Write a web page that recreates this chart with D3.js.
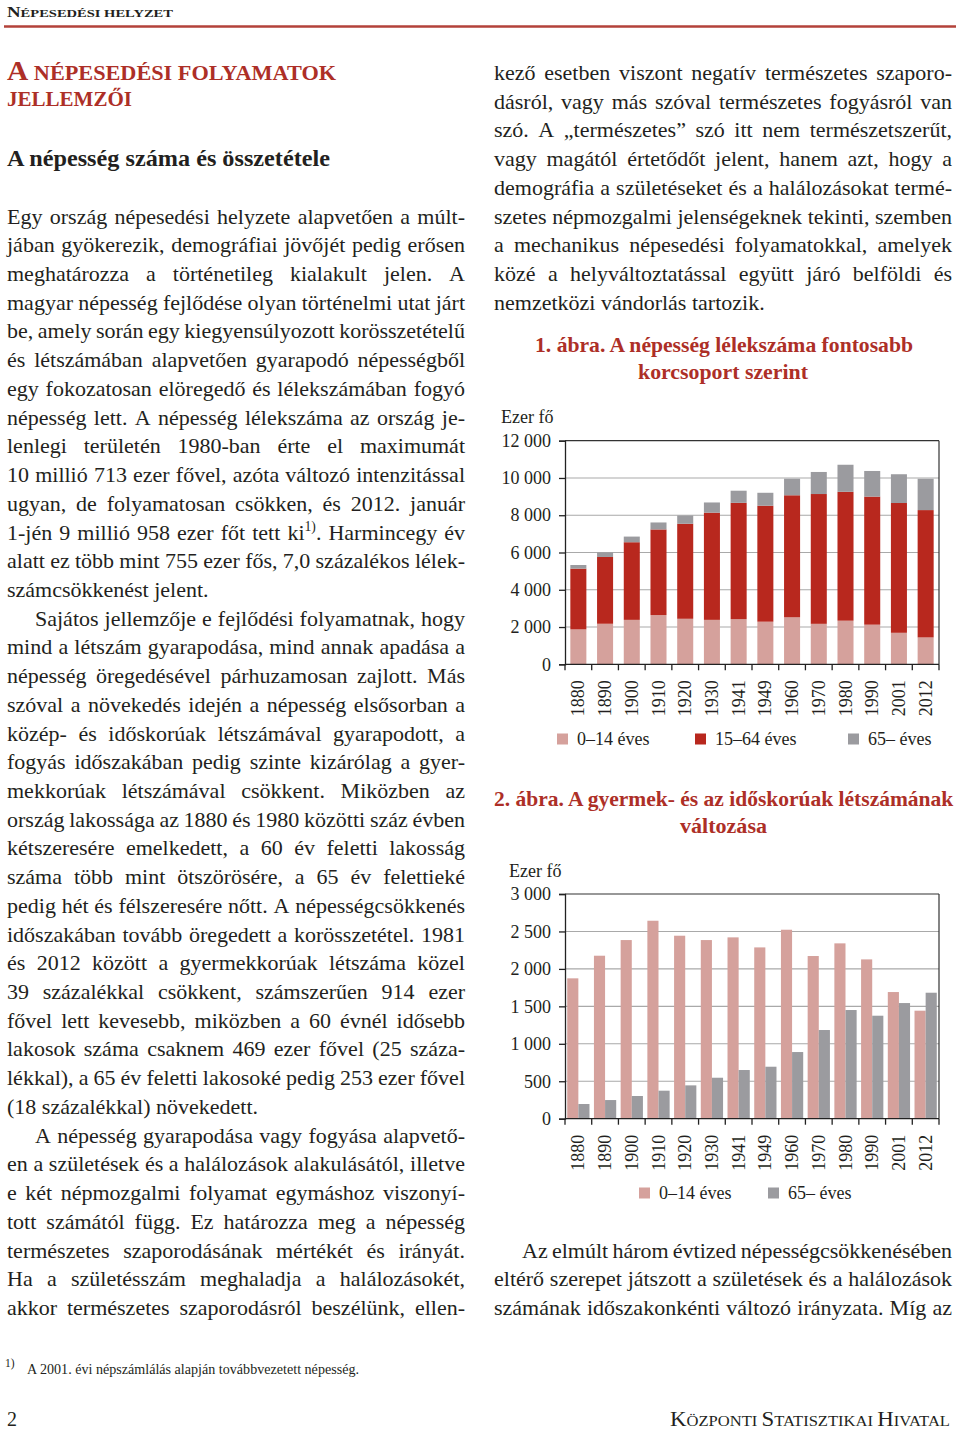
<!DOCTYPE html>
<html><head><meta charset="utf-8">
<script src="https://cdn.jsdelivr.net/npm/d3@7"></script>
<style>
html,body{margin:0;padding:0;background:#fff;}
svg{display:block;}
svg text{font-family:"Liberation Serif","DejaVu Serif",serif !important;}
</style></head>
<body>
<svg id="page" width="960" height="1431"></svg>
<script>
// ---------- DATA ----------
const years = ["1880","1890","1900","1910","1920","1930","1941","1949","1960","1970","1980","1990","2001","2012"];
const age0_14  = [1874,2176,2385,2643,2443,2385,2421,2287,2523,2172,2341,2127,1691,1442];
const age15_64 = [3259,3584,4166,4595,5099,5753,6245,6224,6548,6966,6917,6873,6965,6834];
const age65    = [196,249,303,374,445,547,650,694,890,1184,1451,1375,1544,1682];
const ticks1 = [0,2000,4000,6000,8000,10000,12000];
const ticks2 = [0,500,1000,1500,2000,2500,3000];
const seriesNames1 = ["0–14 éves","15–64 éves","65– éves"];
const seriesNames2 = ["0–14 éves","65– éves"];
const colors = {young:"#d5a19c", mid:"#b8281e", old:"#9b9b9f"};

// ---------- TEXT ----------
const leftLines = [
 ["Egy ország népesedési helyzete alapvetően a múlt-",1,0],
 ["jában gyökerezik, demográfiai jövőjét pedig erősen",1,0],
 ["meghatározza a történetileg kialakult jelen. A",1,0],
 ["magyar népesség fejlődése olyan történelmi utat járt",1,0],
 ["be, amely során egy kiegyensúlyozott korösszetételű",1,0],
 ["és létszámában alapvetően gyarapodó népességből",1,0],
 ["egy fokozatosan elöregedő és lélekszámában fogyó",1,0],
 ["népesség lett. A népesség lélekszáma az ország je-",1,0],
 ["lenlegi területén 1980-ban érte el maximumát",1,0],
 ["10 millió 713 ezer fővel, azóta változó intenzitással",1,0],
 ["ugyan, de folyamatosan csökken, és 2012. január",1,0],
 ["1-jén 9 millió 958 ezer főt tett ki^1). Harmincegy év",1,0],
 ["alatt ez több mint 755 ezer fős, 7,0 százalékos lélek-",1,0],
 ["számcsökkenést jelent.",0,0],
 ["Sajátos jellemzője e fejlődési folyamatnak, hogy",1,1],
 ["mind a létszám gyarapodása, mind annak apadása a",1,0],
 ["népesség öregedésével párhuzamosan zajlott. Más",1,0],
 ["szóval a növekedés idején a népesség elsősorban a",1,0],
 ["közép- és időskorúak létszámával gyarapodott, a",1,0],
 ["fogyás időszakában pedig szinte kizárólag a gyer-",1,0],
 ["mekkorúak létszámával csökkent. Miközben az",1,0],
 ["ország lakossága az 1880 és 1980 közötti száz évben",1,0],
 ["kétszeresére emelkedett, a 60 év feletti lakosság",1,0],
 ["száma több mint ötszörösére, a 65 év felettieké",1,0],
 ["pedig hét és félszeresére nőtt. A népességcsökkenés",1,0],
 ["időszakában tovább öregedett a korösszetétel. 1981",1,0],
 ["és 2012 között a gyermekkorúak létszáma közel",1,0],
 ["39 százalékkal csökkent, számszerűen 914 ezer",1,0],
 ["fővel lett kevesebb, miközben a 60 évnél idősebb",1,0],
 ["lakosok száma csaknem 469 ezer fővel (25 száza-",1,0],
 ["lékkal), a 65 év feletti lakosoké pedig 253 ezer fővel",1,0],
 ["(18 százalékkal) növekedett.",0,0],
 ["A népesség gyarapodása vagy fogyása alapvető-",1,1],
 ["en a születések és a halálozások alakulásától, illetve",1,0],
 ["e két népmozgalmi folyamat egymáshoz viszonyí-",1,0],
 ["tott számától függ. Ez határozza meg a népesség",1,0],
 ["természetes szaporodásának mértékét és irányát.",1,0],
 ["Ha a születésszám meghaladja a halálozásokét,",1,0],
 ["akkor természetes szaporodásról beszélünk, ellen-",1,0]
];
const rightTopLines = [
 ["kező esetben viszont negatív természetes szaporo-",1,0],
 ["dásról, vagy más szóval természetes fogyásról van",1,0],
 ["szó. A „természetes” szó itt nem természetszerűt,",1,0],
 ["vagy magától értetődőt jelent, hanem azt, hogy a",1,0],
 ["demográfia a születéseket és a halálozásokat termé-",1,0],
 ["szetes népmozgalmi jelenségeknek tekinti, szemben",1,0],
 ["a mechanikus népesedési folyamatokkal, amelyek",1,0],
 ["közé a helyváltoztatással együtt járó belföldi és",1,0],
 ["nemzetközi vándorlás tartozik.",0,0]
];
const rightBottomLines = [
 ["Az elmúlt három évtized népességcsökkenésében",1,1],
 ["eltérő szerepet játszott a születések és a halálozások",1,0],
 ["számának időszakonkénti változó irányzata. Míg az",1,0]
];

const svg = d3.select("#page");
const BODY = 22;
const LH = 28.72;
const baseline = k => 80 + k*LH;
const ink = "#231f20";
const titleRed = "#ad2f27";
const SERIF = "Liberation Serif";

function addWord(parent, w, x, y, size) {
  const t = parent.append("text").attr("x", x).attr("y", y).attr("font-size", size).attr("fill", ink);
  if (w.includes("^")) {
    const [a, rest] = w.split("^");
    const m = rest.match(/^(\d\))(.*)$/);
    t.append("tspan").text(a);
    t.append("tspan").attr("font-size", size*0.62).attr("dy", -size*0.38).text(m[1]);
    t.append("tspan").attr("dy", size*0.38).text(m[2]);
  } else t.text(w);
  return t;
}
function textLine(parent, str, x, y, width, justify, size) {
  const g = parent.append("g");
  const words = str.split(" ");
  const nodes = words.map(w => addWord(g, w, 0, y, size));
  const ws = nodes.map(n => n.node().getComputedTextLength());
  const sum = d3.sum(ws);
  let gap = size*0.25;
  if (justify && words.length > 1) gap = (width - sum)/(words.length-1);
  let sx = 1;
  const minGap = size*0.17;
  if (gap < minGap) {
    const need = sum + minGap*(words.length-1);
    sx = width/need; gap = minGap*sx;
  }
  let cx = 0;
  nodes.forEach((n,i) => { n.attr("x", cx/sx); cx += ws[i]*sx + gap; });
  g.attr("transform", `translate(${x},0) scale(${sx},1)`);
  return g;
}
function paragraph(lines, x, k0, width) {
  lines.forEach((l,i) => {
    const ind = l[2] ? 28 : 0;
    textLine(svg, l[0], x+ind, baseline(k0+i), width-ind, l[1], BODY);
  });
}
function fitText(sel, w) {
  const len = sel.node().getComputedTextLength();
  if (Math.abs(len-w) > 1) sel.attr("textLength", w).attr("lengthAdjust","spacingAndGlyphs");
  return sel;
}
// small-caps look: [text, big?] parts
function capsText(x, y, parts, big, small, fill, weight, w) {
  const t = svg.append("text").attr("x", x).attr("y", y).attr("fill", fill).attr("font-weight", weight);
  parts.forEach(p => t.append("tspan").attr("font-size", p[1] ? big : small).text(p[0]));
  return fitText(t, w);
}

// header
capsText(7, 17, [["N",1],["ÉPESEDÉSI HELYZET",0]], 14.5, 11.2, ink, "bold", 166);
svg.append("line").attr("x1",4).attr("x2",956).attr("y1",26.5).attr("y2",26.5)
  .attr("stroke","#b3423a").attr("stroke-width",2.6);

// main title
capsText(7, 80, [["A",1],[" NÉPESEDÉSI FOLYAMATOK",0]], 26.5, 20, titleRed, "bold", 329);
capsText(7, 106, [["JELLEMZŐI",0]], 26.5, 20, titleRed, "bold", 125);
fitText(svg.append("text").attr("x",7).attr("y",166).attr("font-size",23).attr("font-weight","bold")
  .attr("fill",ink).text("A népesség száma és összetétele"), 323);

paragraph(leftLines, 7, 5, 458);
paragraph(rightTopLines, 494, 0, 458);
paragraph(rightBottomLines, 494, 41, 458);

// chart titles
function placedTitle(str, y, x0, w) {
  const t = svg.append("text").attr("y", y).attr("x", x0).attr("font-size", 21.5).attr("font-weight","bold")
    .attr("fill", titleRed).text(str);
  fitText(t, w);
}
placedTitle("1. ábra. A népesség lélekszáma fontosabb", 352, 535, 378);
placedTitle("korcsoport szerint", 379, 638, 170);
placedTitle("2. ábra. A gyermek- és az időskorúak létszámának", 806, 494, 459);
placedTitle("változása", 833, 680, 87);

// ---------- CHARTS ----------
const fmt = d3.formatLocale({decimal:",", thousands:" ", grouping:[3], currency:["",""]}).format(",");
const X0 = 565, X1 = 939;
function grid(g, y, ticks) {
  g.selectAll(".grid").data(ticks.slice(1,-1)).join("line")
    .attr("x1",X0).attr("x2",X1).attr("y1",d=>y(d)).attr("y2",d=>y(d))
    .attr("stroke","#a9a9a9").attr("stroke-width",1.1);
}
function axes(g, x, y, ticks, labelPos) {
  const top = y(ticks[ticks.length-1]), bot = y(0);
  g.append("line").attr("x1",X0).attr("x2",X1).attr("y1",top).attr("y2",top).attr("stroke","#333").attr("stroke-width",1.2);
  g.append("line").attr("x1",X1).attr("x2",X1).attr("y1",top).attr("y2",bot).attr("stroke","#333").attr("stroke-width",1.2);
  const ya = g.append("g").attr("transform",`translate(${X0},0)`)
    .call(d3.axisLeft(y).tickValues(ticks).tickSize(6).tickPadding(8).tickFormat(fmt))
    .attr("font-family", SERIF);
  ya.select(".domain").attr("stroke","#222").attr("stroke-width",1.3);
  ya.selectAll(".tick line").attr("stroke","#222").attr("stroke-width",1.3);
  ya.selectAll(".tick text").attr("font-size",18).attr("fill",ink);
  g.append("line").attr("x1",X0).attr("x2",X1).attr("y1",bot).attr("y2",bot).attr("stroke","#222").attr("stroke-width",1.3);
  const edges = years.map(d => x(d)).concat([x.range()[1]]);
  g.selectAll(".bt").data(edges).join("line")
    .attr("x1",d=>d).attr("x2",d=>d).attr("y1",bot).attr("y2",bot+6)
    .attr("stroke","#222").attr("stroke-width",1.3);
  g.selectAll(".xl").data(years).join("text")
    .attr("transform",d=>`translate(${x(d)+x.bandwidth()/2+6},${bot+16}) rotate(-90)`)
    .attr("text-anchor","end").attr("font-size",18).attr("fill",ink).text(d=>d);
  g.append("text").attr("x",labelPos[0]).attr("y",labelPos[1]).attr("font-size",18).attr("fill",ink).text("Ezer fő");
}
function legend(g, items, y) {
  items.forEach(it => {
    g.append("rect").attr("x",it.x).attr("y",y-5.5).attr("width",11).attr("height",11).attr("fill",it.c);
    g.append("text").attr("x",it.x+20).attr("y",y+6).attr("font-size",18).attr("fill",ink).text(it.t);
  });
}

// Chart 1: stacked
{
  const g = svg.append("g");
  const x = d3.scaleBand().domain(years).range([X0,X1]).paddingInner(0).paddingOuter(0);
  const y = d3.scaleLinear().domain([0,12000]).range([664.3,440.7]);
  grid(g, y, ticks1);
  const rows = years.map((yr,i)=>({year:yr, young:age0_14[i], mid:age15_64[i], old:age65[i]}));
  const stack = d3.stack().keys(["young","mid","old"])(rows);
  const bw = x.step()*0.6;
  g.selectAll(".layer").data(stack).join("g").attr("fill",d=>colors[d.key])
    .selectAll("rect").data(d=>d).join("rect")
    .attr("x",d=>x(d.data.year)+(x.step()-bw)/2).attr("width",bw)
    .attr("y",d=>y(d[1])).attr("height",d=>y(d[0])-y(d[1]));
  axes(g, x, y, ticks1, [501,423]);
  legend(g, [{x:557,c:colors.young,t:seriesNames1[0]},{x:695,c:colors.mid,t:seriesNames1[1]},{x:848,c:colors.old,t:seriesNames1[2]}], 739);
}
// Chart 2: grouped
{
  const g = svg.append("g");
  const x = d3.scaleBand().domain(years).range([X0,X1]).paddingInner(0).paddingOuter(0);
  const y = d3.scaleLinear().domain([0,3000]).range([1118.7,894]);
  grid(g, y, ticks2);
  const inner = d3.scaleBand().domain(["young","old"]).range([0,x.step()]).paddingInner(0).paddingOuter(0.2);
  const rows = years.map((yr,i)=>({year:yr, vals:[{k:"young",v:age0_14[i]},{k:"old",v:age65[i]}]}));
  g.selectAll(".grp").data(rows).join("g").attr("transform",d=>`translate(${x(d.year)},0)`)
    .selectAll("rect").data(d=>d.vals).join("rect")
    .attr("x",d=>inner(d.k)).attr("width",inner.bandwidth())
    .attr("y",d=>y(d.v)).attr("height",d=>y(0)-y(d.v)).attr("fill",d=>colors[d.k]);
  axes(g, x, y, ticks2, [509,877]);
  legend(g, [{x:639,c:colors.young,t:seriesNames2[0]},{x:768,c:colors.old,t:seriesNames2[1]}], 1193);
}

// footnote and footer
svg.append("text").attr("x",5).attr("y",1367).attr("font-size",11.5).attr("fill",ink).text("1)");
fitText(svg.append("text").attr("x",27).attr("y",1374).attr("font-size",14).attr("fill",ink)
  .text("A 2001. évi népszámlálás alapján továbbvezetett népesség."), 332);
svg.append("text").attr("x",7).attr("y",1426).attr("font-size",20).attr("fill",ink).text("2");
capsText(670, 1426, [["K",1],["ÖZPONTI ",0],["S",1],["TATISZTIKAI ",0],["H",1],["IVATAL",0]], 20, 14.5, ink, "normal", 280);
</script>
</body></html>
